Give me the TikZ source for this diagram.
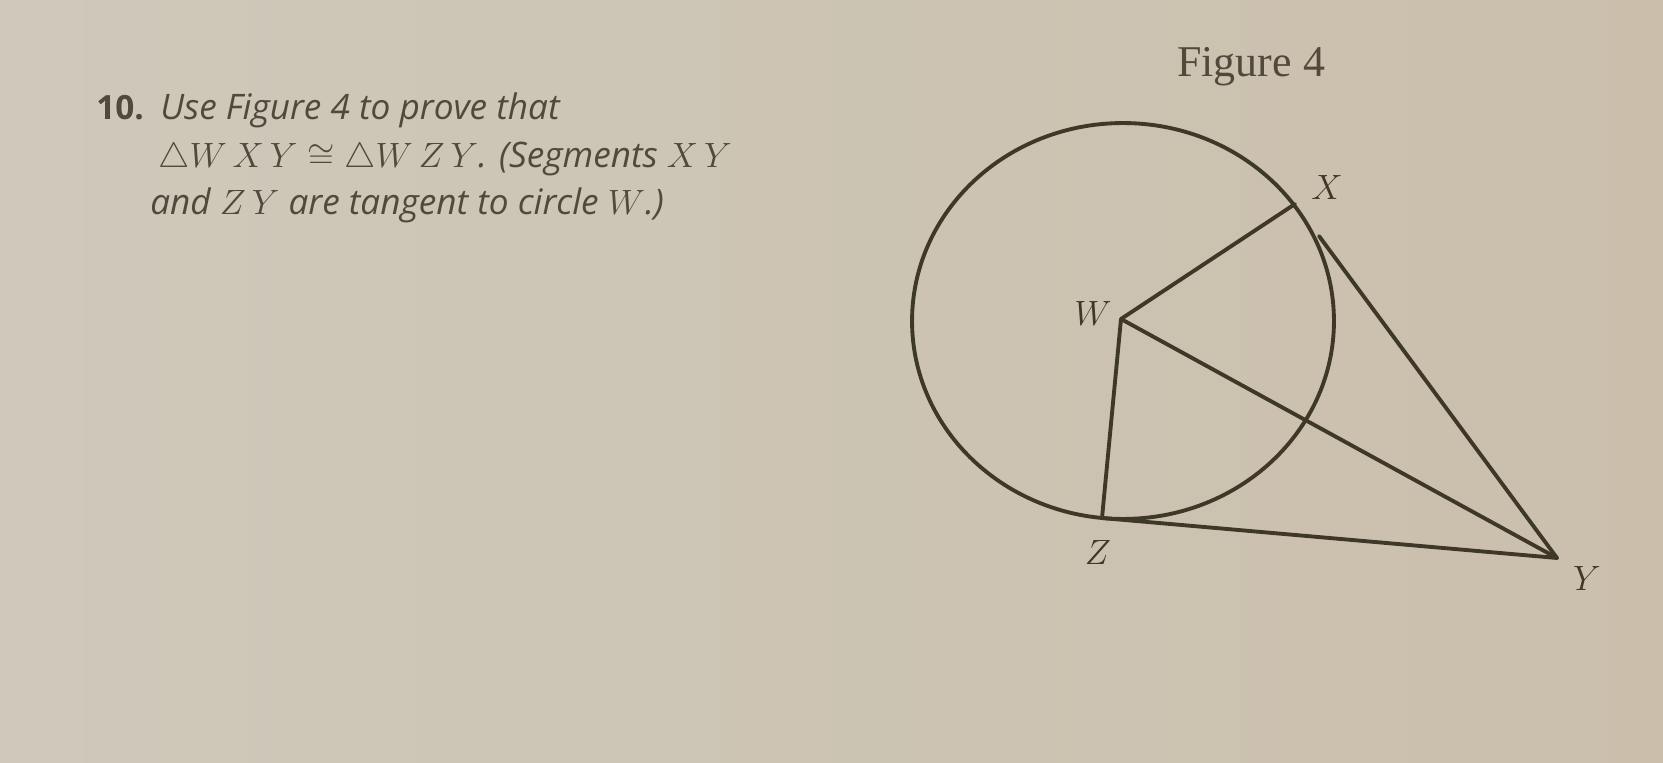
\RequirePackage{fix-cm}
\documentclass[tikz,border=0pt]{standalone}
\usepackage{fontspec}
\setsansfont{Open Sans}
\setmainfont{Liberation Serif}
\definecolor{paperL}{RGB}{206,201,187}
\definecolor{paperR}{RGB}{203,191,172}
\definecolor{ink}{RGB}{62,56,40}
\definecolor{print}{RGB}{80,74,60}
\tikzset{
	seg/.style={ink, line width=2.2pt, line cap=round},
	lbl/.style={ink, font=\fontsize{20}{24}\selectfont},
	txt/.style={print, anchor=base west, inner sep=0pt, font=\sffamily\itshape\fontsize{20}{24}\selectfont}
}

\begin{document}
\begin{tikzpicture}[x=0.02cm,y=-0.02cm]
	\shade [left color=paperL, right color=paperR] (0,0) rectangle (1663,763);
	\useasboundingbox (0,0) rectangle (1663,763);

	% the exercise
	\node [txt, font=\sffamily\bfseries\fontsize{19}{22}\selectfont] (num) at (96,120) {10.};
	\node [txt] (line1) at (160,120) {Use Figure 4 to prove that};
	\node [txt] (line2) at (158,168) {$\triangle W\,X\,Y \cong \triangle W\,Z\,Y$. (Segments $X\,Y$};
	\node [txt] (line3) at (150,215) {and $Z\,Y$ are tangent to circle $W$.)};
	\node [print, anchor=base west, inner sep=0pt, font=\rmfamily\fontsize{25}{30}\selectfont] (fig) at (1177,77) {Figure 4};

	% the figure
	\coordinate (W) at (1121,319);
	\coordinate (X) at (1295,204);
	\coordinate (T) at (1319,236);
	\coordinate (Y) at (1557,558);
	\coordinate (Z) at (1102,518);

	\draw [seg] (1123,321) ellipse [x radius=4.22cm, y radius=3.96cm];
	\draw [seg] (W) -- (X);
	\draw [seg] (W) -- (Z);
	\draw [seg] (W) -- (Y);
	\draw [seg] (T) -- (Y);
	\draw [seg] (Z) -- (Y);

	\node [lbl] (Wl) at (1093,313) {$W$};
	\node [lbl] (Xl) at (1327,187) {$X$};
	\node [lbl] (Yl) at (1587,578) {$Y$};
	\node [lbl] (Zl) at (1098,552) {$Z$};
\end{tikzpicture}
\end{document}
